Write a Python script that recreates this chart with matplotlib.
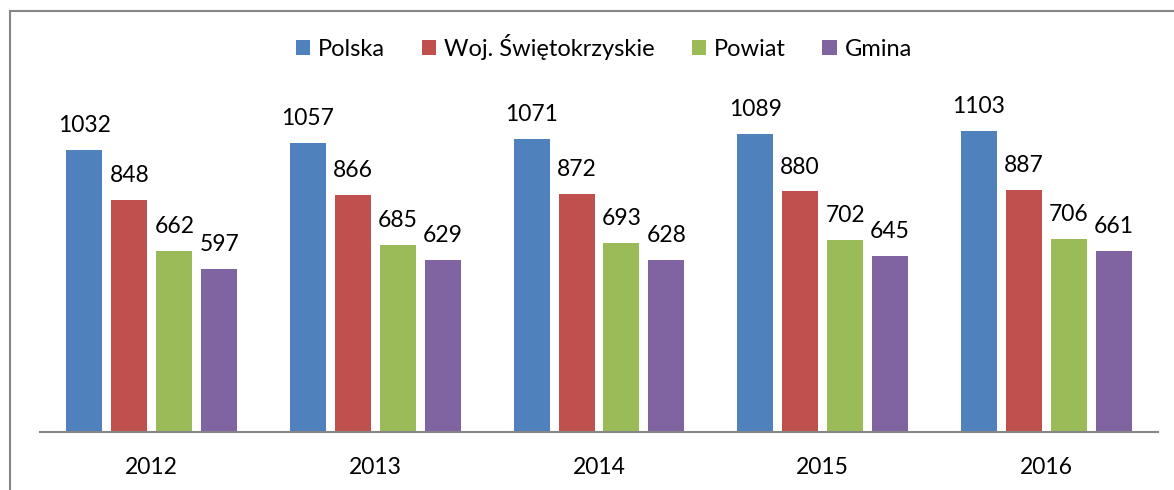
import matplotlib
matplotlib.use('Agg')
import matplotlib.pyplot as plt
import numpy as np
from matplotlib.patches import Rectangle

years = ['2012', '2013', '2014', '2015', '2016']
series_names = ['Polska', 'Woj. Świętokrzyskie', 'Powiat', 'Gmina']
polska = [1032, 1057, 1071, 1089, 1103]
woj = [848, 866, 872, 880, 887]
powiat = [662, 685, 693, 702, 706]
gmina = [597, 629, 628, 645, 661]
colors = ['#4F81BD', '#C0504D', '#9BBB59', '#8064A2']

plt.rcParams['font.family'] = ['Lato', 'DejaVu Sans']

W, H = 1174, 490
fig = plt.figure(figsize=(W / 100, H / 100), dpi=100)
# axes box in pixels: left 40, right 1158, bottom 432, top 104
ax = fig.add_axes([40 / W, 1 - 432 / H, (1158 - 40) / W, (432 - 104) / H])

x = np.arange(len(years))
bar_w = 0.161
step = 0.201
for i, (vals, name, c) in enumerate(zip([polska, woj, powiat, gmina], series_names, colors)):
    pos = x + (i - 1.5) * step
    bars = ax.bar(pos, vals, width=bar_w, color=c, label=name)
    for b, v in zip(bars, vals):
        ax.annotate(str(v), (b.get_x() + b.get_width() / 2, v), xytext=(0, 10),
                    textcoords='offset points', ha='center', va='bottom', fontsize=16.5)

ax.set_xlim(-0.5, len(years) - 0.5)
ax.set_ylim(0, 1200)
ax.set_xticks(x)
ax.set_xticklabels(years, fontsize=16.5)
ax.tick_params(axis='x', length=0, pad=18)
ax.set_yticks([])
for s in ['top', 'right', 'left']:
    ax.spines[s].set_visible(False)
ax.spines['bottom'].set_color('#868686')
ax.spines['bottom'].set_linewidth(1.5)

fig.legend(loc='center', bbox_to_anchor=(604 / W, 1 - 47 / H), ncol=4, frameon=False,
           fontsize=17, handlelength=0.6, handleheight=0.6, handletextpad=0.35,
           columnspacing=1.55)

# outer frame (only left and top visible in reference)
fig.patches.append(Rectangle((10 / W, -0.1), 1.2, 1 - 11 / H + 0.1, transform=fig.transFigure,
                             fill=False, edgecolor='#868686', linewidth=1.5))

fig.savefig('out.png', dpi=100)
